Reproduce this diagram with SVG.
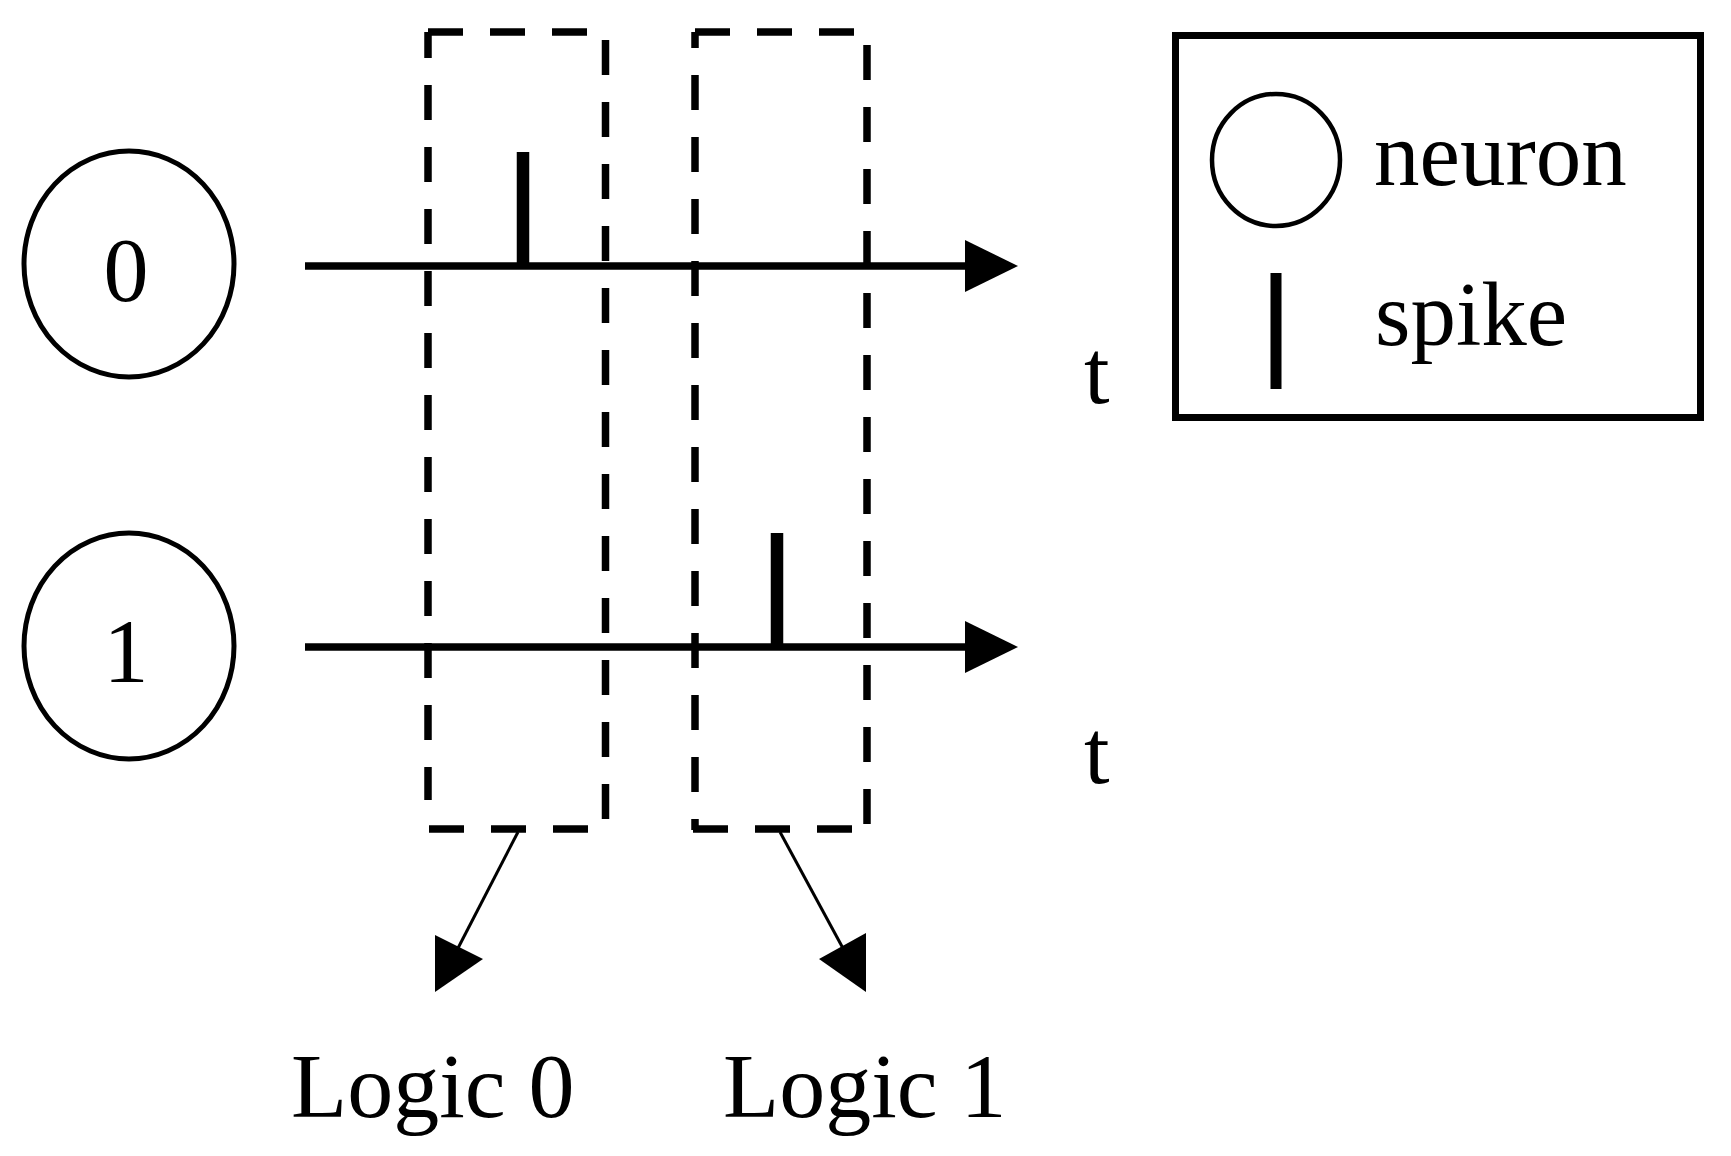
<svg xmlns="http://www.w3.org/2000/svg" width="1731" height="1156" viewBox="0 0 1731 1156">
<style>
.txt{font-family:"Liberation Serif","Times New Roman",serif;fill:#000;}
.neu{fill:none;stroke:#000;stroke-width:5;}
.axis{stroke:#000;stroke-width:7.5;fill:none;}
.spk{stroke:#000;stroke-width:12.5;}
.dash{stroke:#000;stroke-width:7.5;fill:none;stroke-dasharray:35 27;}
.thin{stroke:#000;stroke-width:3;fill:none;}
.head{fill:#000;stroke:none;}
</style>
<rect width="1731" height="1156" fill="#fff"/>
<g id="neuron0">
<ellipse class="neu" cx="129" cy="264" rx="105" ry="113"/>
<text class="txt" x="126" y="301" font-size="90" text-anchor="middle">0</text>
</g>
<g id="neuron1">
<ellipse class="neu" cx="129" cy="646" rx="105" ry="113"/>
<text class="txt" x="126" y="682" font-size="90" text-anchor="middle">1</text>
</g>
<g id="window0">
<line class="dash" x1="428" y1="32" x2="428" y2="800" stroke-dashoffset="9"/>
<line class="dash" x1="428" y1="32" x2="600" y2="32"/>
<line class="dash" x1="605.5" y1="32" x2="605.5" y2="826" stroke-dashoffset="54"/>
<line class="dash" x1="429" y1="829" x2="600" y2="829"/>
</g>
<g id="window1">
<line class="dash" x1="695" y1="32" x2="695" y2="830" stroke-dashoffset="19"/>
<line class="dash" x1="695" y1="32" x2="860" y2="32"/>
<line class="dash" x1="867" y1="32" x2="867" y2="826" stroke-dashoffset="49"/>
<line class="dash" x1="693" y1="829" x2="860" y2="829"/>
</g>
<g id="train0">
<line class="axis" x1="305" y1="266" x2="970" y2="266"/>
<polygon class="head" points="965,240 1018,266 965,292"/>
<line class="spk" x1="523" y1="152" x2="523" y2="266"/>
<text class="txt" x="1084" y="403" font-size="92">t</text>
</g>
<g id="train1">
<line class="axis" x1="305" y1="647" x2="970" y2="647"/>
<polygon class="head" points="965,621 1018,647 965,673"/>
<line class="spk" x1="777" y1="533" x2="777" y2="647"/>
<text class="txt" x="1084" y="783" font-size="92">t</text>
</g>
<g id="connectors">
<line class="thin" x1="518" y1="832" x2="456" y2="952"/>
<polygon class="head" points="435,935 483,959 435,992"/>
<line class="thin" x1="780" y1="832" x2="845" y2="952"/>
<polygon class="head" points="866,933 819,959 866,992"/>
</g>
<g id="logic0">
<text class="txt" x="291" y="1117" font-size="92">Logic 0</text>
</g>
<g id="logic1">
<text class="txt" x="723" y="1117" font-size="92">Logic 1</text>
</g>
<g id="legend">
<rect x="1175.5" y="35.5" width="525" height="382" fill="none" stroke="#000" stroke-width="7"/>
<ellipse cx="1276" cy="160" rx="64" ry="66" fill="none" stroke="#000" stroke-width="4.5"/>
<text class="txt" x="1374" y="185" font-size="91">neuron</text>
<line stroke="#000" stroke-width="11" x1="1276" y1="273" x2="1276" y2="389"/>
<text class="txt" x="1375" y="345" font-size="91">spike</text>
</g>
</svg>
